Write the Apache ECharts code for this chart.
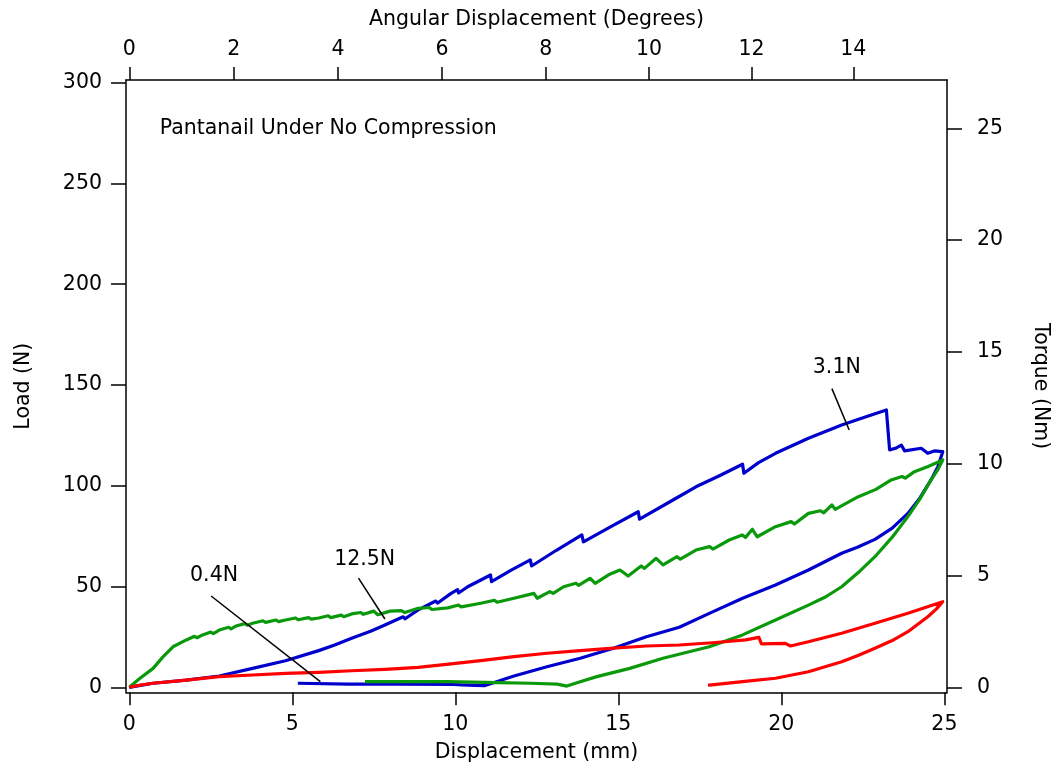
<!DOCTYPE html>
<html>
<head>
<meta charset="utf-8">
<script src="https://cdn.jsdelivr.net/npm/echarts@6/dist/echarts.min.js"></script>
<style>
  html, body { margin: 0; padding: 0; background: #fff; }
  #chart { width: 1059px; height: 770px; }
</style>
</head>
<body>
<div id="chart"></div>
<script>
// Tick labels
const dispTicks = [0, 5, 10, 15, 20, 25];          // mm
const loadTicks = [0, 50, 100, 150, 200, 250, 300]; // N
const torqueTicks = [0, 5, 10, 15, 20, 25];         // Nm
const angleTicks = [0, 2, 4, 6, 8, 10, 12, 14];     // degrees
const ARM_MM = 91.8; // lever radius linking angle to displacement

// Load (N) against displacement (mm): loading then unloading, per test
const blueCurve = [
  [0, 0], [0.73, 2.0], [1.75, 3.6], [2.76, 5.6], [3.78, 9.4], [4.79, 13.2],
  [5.81, 18.2], [6.30, 21.0], [6.36, 20.2], [6.82, 24.3], [7.40, 27.8], [7.46, 26.9],
  [7.84, 30.9], [8.40, 35.0], [8.46, 34.0], [8.86, 38.4], [9.40, 42.8], [9.46, 41.8],
  [9.87, 46.6], [10.07, 48.5], [10.10, 46.8], [10.38, 49.9], [11.08, 55.7], [11.11, 52.4],
  [11.70, 58.0], [12.30, 63.2], [12.34, 60.2], [13.10, 68.0], [13.88, 75.6], [13.93, 72.2],
  [14.80, 80.0], [15.61, 87.1], [15.65, 83.4], [16.77, 93.8], [17.38, 99.5], [18.10, 105.0],
  [18.81, 110.7], [18.85, 106.2], [19.30, 111.5], [19.82, 116.1], [20.83, 123.6],
  [21.85, 130.2], [22.46, 133.5], [23.22, 137.6], [23.32, 117.8], [23.50, 118.6],
  [23.68, 120.2], [23.78, 117.3], [24.29, 118.6], [24.49, 116.1], [24.69, 117.3],
  [24.95, 116.9], [25.0, 116.8],
  [24.80, 109.5], [24.59, 102.9], [24.25, 94.0], [23.88, 86.3], [23.40, 79.0],
  [22.87, 73.4], [22.35, 69.6], [21.85, 66.5], [20.83, 58.2],
  [19.82, 50.8], [18.81, 44.2], [17.79, 36.7], [16.87, 29.8], [15.86, 25.1],
  [14.85, 19.4], [13.83, 14.4], [12.81, 10.2], [11.80, 5.6], [10.89, 0.8],
  [10.38, 1.1], [9.92, 1.4], [8.25, 1.6], [6.73, 1.6], [5.17, 2.0]
];

const greenCurve = [
  [0, 0], [0.33, 4.5], [0.73, 9.4], [1.04, 15.2], [1.34, 20.1], [1.75, 23.5],
  [2.00, 25.3], [2.08, 24.6], [2.25, 26.0], [2.50, 27.4], [2.58, 26.6], [2.76, 28.4],
  [3.05, 29.8], [3.12, 29.0], [3.27, 30.4], [3.55, 31.6], [3.62, 30.8], [3.78, 31.8],
  [4.10, 33.0], [4.18, 32.2], [4.50, 33.4], [4.58, 32.6], [4.79, 33.4], [5.10, 34.4],
  [5.18, 33.5], [5.50, 34.6], [5.58, 33.8], [5.81, 34.4], [6.10, 35.5], [6.18, 34.6],
  [6.50, 35.8], [6.58, 35.0], [6.82, 36.4], [7.10, 37.1], [7.18, 36.2], [7.50, 37.8],
  [7.62, 36.0], [8.00, 37.8], [8.35, 38.0], [8.45, 37.1], [8.86, 39.2], [9.20, 39.6],
  [9.28, 38.6], [9.77, 39.4], [10.10, 40.8], [10.18, 39.9], [10.78, 41.7], [11.20, 43.2],
  [11.28, 42.2], [11.80, 44.2], [12.41, 46.6], [12.51, 44.2], [12.90, 47.5], [13.00, 46.6],
  [13.32, 49.9], [13.70, 51.6], [13.78, 50.6], [14.13, 54.1], [14.29, 51.6], [14.70, 55.8],
  [15.05, 58.2], [15.30, 55.2], [15.70, 60.2], [15.80, 59.0], [16.16, 64.0], [16.37, 60.7],
  [16.80, 64.8], [16.90, 63.6], [17.38, 68.1], [17.80, 69.8], [17.90, 68.6], [18.40, 73.1],
  [18.80, 75.6], [18.90, 74.4], [19.11, 78.4], [19.26, 74.7], [19.82, 79.7], [20.30, 82.2],
  [20.40, 81.0], [20.83, 86.3], [21.20, 87.6], [21.30, 86.6], [21.55, 90.5], [21.65, 88.3],
  [22.36, 94.6], [22.90, 98.2], [23.37, 102.9], [23.70, 104.6], [23.80, 103.8],
  [24.08, 107.0], [24.50, 109.6], [24.95, 112.8], [25.0, 113.1],
  [24.80, 108.0], [24.59, 102.9], [24.25, 93.5], [23.88, 84.7], [23.40, 74.5],
  [22.87, 64.8], [22.35, 56.8], [21.85, 49.9], [21.35, 44.8], [20.83, 40.8],
  [19.82, 33.4], [18.81, 26.0], [17.79, 20.1], [16.77, 16.0], [16.37, 14.4],
  [15.35, 9.4], [14.34, 5.3], [13.83, 2.8], [13.42, 0.6], [13.12, 1.6], [12.31, 2.0],
  [11.29, 2.3], [9.77, 2.8], [7.23, 2.8]
];

const redCurve = [
  [0, 0], [0.33, 1.1], [0.73, 2.0], [1.75, 3.6], [2.76, 5.3], [3.78, 6.1], [4.79, 6.9],
  [5.81, 7.4], [6.82, 8.2], [7.84, 8.9], [8.86, 9.9], [9.87, 11.6], [10.78, 13.2],
  [11.80, 15.2], [12.81, 16.9], [13.83, 18.2], [14.85, 19.4], [15.86, 20.5],
  [16.87, 21.0], [17.89, 22.1], [18.91, 23.5], [19.31, 24.8], [19.39, 21.5],
  [20.12, 21.8], [20.28, 20.5], [20.83, 22.6], [21.85, 26.8], [22.87, 31.8],
  [23.88, 36.7], [24.95, 42.5], [25.0, 42.8],
  [24.75, 38.8], [24.49, 35.0], [23.88, 27.6], [23.40, 23.2], [22.87, 19.4],
  [22.35, 15.8], [21.85, 12.7], [20.83, 7.7],
  [19.82, 4.5], [18.81, 2.8], [17.79, 1.1], [17.75, 1.0]
];

// Callouts: text, text anchor, leader start, leader end (mm, N)
const callouts = [
  { text: '3.1N',  at: [21.70, 158.7], from: [21.55, 148.2], to: [22.08, 127.7] },
  { text: '12.5N', at: [7.22, 63.4],   from: [7.03, 54.2],   to: [7.84, 33.9] },
  { text: '0.4N',  at: [2.60, 55.3],   from: [2.51, 45.3],   to: [5.86, 2.8] }
];
const noteText = 'Pantanail Under No Compression';
const notePos = [0.935, 277];

const FONT = 'DejaVu Sans';
const FONT_SIZE = 20.5;
const angleMm = angleTicks.map(a => ARM_MM * Math.sin(a * Math.PI / 180));

const chart = echarts.init(document.getElementById('chart'), null, { renderer: 'canvas' });

const axisLineStyle = { show: true, onZero: false, lineStyle: { color: '#000', width: 1.5 } };
const labelStyle = { color: '#000', fontSize: FONT_SIZE, fontFamily: FONT };
const noteStyle = { show: true, color: '#000', opacity: 1, textBorderWidth: 0,
                    fontSize: FONT_SIZE, fontFamily: FONT, formatter: p => p.name };

const xMin = -0.1005, xMax = 25.08;

const series = [
  { data: blueCurve, color: '#0000cc' },
  { data: greenCurve, color: '#0a990a' },
  { data: redCurve, color: '#ff0000' }
].map(s => ({
  type: 'line', data: s.data, showSymbol: false, symbol: 'none',
  lineStyle: { color: s.color, width: 3.2, join: 'round' }, itemStyle: { color: s.color },
  xAxisIndex: 0, yAxisIndex: 0, silent: true, animation: false, z: 3
}));

callouts.forEach(c => {
  series.push({
    type: 'line', data: [c.from, c.to], showSymbol: false, symbol: 'none',
    lineStyle: { color: '#000', width: 1.5 }, xAxisIndex: 0, yAxisIndex: 0,
    silent: true, animation: false, z: 4
  });
});

const textMark = {
  type: 'scatter', xAxisIndex: 0, yAxisIndex: 0, silent: true, animation: false,
  symbol: 'circle', symbolSize: 2, itemStyle: { color: '#fff', opacity: 1 }, z: 1
};
series.push({
  ...textMark,
  data: callouts.map(c => ({ value: c.at, name: c.text })),
  label: { ...noteStyle, position: 'inside' }
});
series.push({
  ...textMark,
  data: [{ value: notePos, name: noteText }],
  label: { ...noteStyle, position: 'inside', align: 'left' }
});

chart.setOption({
  backgroundColor: '#fff',
  animation: false,
  grid: { left: 126, right: 106.3, top: 80, bottom: 77.7, containLabel: false },
  xAxis: [
    {
      type: 'value', position: 'bottom', min: xMin, max: xMax,
      name: 'Displacement (mm)', nameLocation: 'middle', nameGap: 50,
      nameTextStyle: labelStyle,
      axisLine: axisLineStyle,
      axisTick: { show: true, inside: false, length: 13, customValues: dispTicks,
                  lineStyle: { color: '#000', width: 1.5 } },
      axisLabel: { ...labelStyle, margin: 22, customValues: dispTicks },
      splitLine: { show: false }
    },
    {
      type: 'value', position: 'top', min: xMin, max: xMax,
      name: 'Angular Displacement (Degrees)', nameLocation: 'middle', nameGap: 50,
      nameTextStyle: labelStyle,
      axisLine: axisLineStyle,
      axisTick: { show: true, inside: false, length: 13, customValues: angleMm,
                  lineStyle: { color: '#000', width: 1.5 } },
      axisLabel: { ...labelStyle, margin: 20, customValues: angleMm,
        formatter: v => {
          let best = 0;
          angleMm.forEach((m, i) => { if (Math.abs(m - v) < Math.abs(angleMm[best] - v)) best = i; });
          return String(angleTicks[best]);
        } },
      splitLine: { show: false }
    }
  ],
  yAxis: [
    {
      type: 'value', position: 'left', min: -2.481, max: 301.34,
      name: 'Load (N)', nameLocation: 'middle', nameGap: 92,
      nameTextStyle: labelStyle,
      axisLine: axisLineStyle,
      axisTick: { show: true, inside: false, length: 15, customValues: loadTicks,
                  lineStyle: { color: '#000', width: 1.5 } },
      axisLabel: { ...labelStyle, margin: 24, customValues: loadTicks },
      splitLine: { show: false }
    },
    {
      type: 'value', position: 'right', min: -0.2236, max: 27.16,
      name: 'Torque (Nm)', nameLocation: 'middle', nameGap: 83, nameRotate: -90,
      nameTextStyle: labelStyle,
      axisLine: axisLineStyle,
      axisTick: { show: true, inside: false, length: 15, customValues: torqueTicks,
                  lineStyle: { color: '#000', width: 1.5 } },
      axisLabel: { ...labelStyle, margin: 30, customValues: torqueTicks },
      splitLine: { show: false }
    }
  ],
  series: series
});
</script>
</body>
</html>
